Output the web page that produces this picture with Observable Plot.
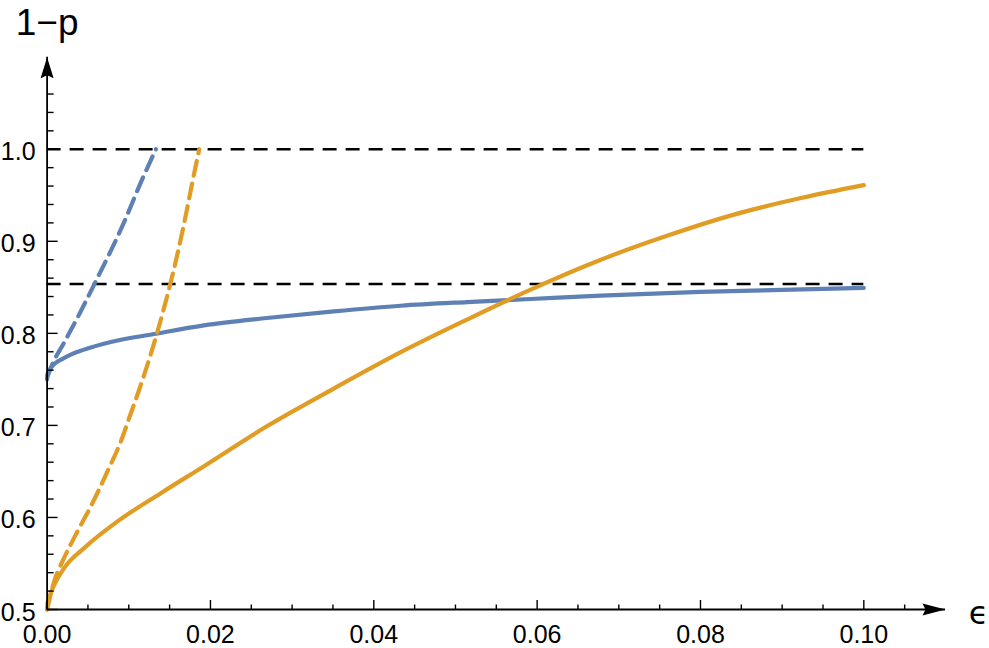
<!DOCTYPE html>
<html>
<head>
<meta charset="utf-8">
<script src="https://cdn.jsdelivr.net/npm/d3@7"></script>
<script src="https://cdn.jsdelivr.net/npm/@observablehq/plot@0.6"></script>
<style>
  html, body { margin: 0; padding: 0; background: #ffffff; }
  #chart { width: 989px; height: 648px; }
</style>
</head>
<body>
<div id="chart"></div>
<script>
// ---------- data ----------
const blueSolidEps = [0, 0.00005, 0.00045, 0.00208, 0.00453, 0.0078, 0.0131, 0.0192, 0.0269, 0.0351, 0.0433, 0.0514, 0.0592, 0.0678, 0.080, 0.090, 0.100];
const blueSolidP   = [0.750, 0.756, 0.7623, 0.7732, 0.7823, 0.7906, 0.7993, 0.8087, 0.8167, 0.8239, 0.8300, 0.8340, 0.8373, 0.8410, 0.8450, 0.8472, 0.8493];

const orangeSolidEps = [0, 0.00005, 0.00045, 0.00208, 0.00453, 0.00862, 0.01393, 0.01916, 0.0269, 0.0351, 0.0433, 0.0514, 0.0592, 0.0678, 0.0759, 0.0841, 0.0923, 0.100];
const orangeSolidP   = [0.500, 0.507, 0.5177, 0.5449, 0.5667, 0.5957, 0.6264, 0.6554, 0.699, 0.7400, 0.7795, 0.8149, 0.8475, 0.880, 0.906, 0.929, 0.947, 0.961];

const blueDashedEps = [0, 0.00065, 0.00208, 0.00372, 0.00474, 0.00576, 0.00944, 0.01148, 0.01332];
const blueDashedP   = [0.752, 0.7665, 0.790, 0.817, 0.8348, 0.853, 0.921, 0.964, 1.0];

const orangeDashedEps = [0, 0.00086, 0.00188, 0.00372, 0.00555, 0.00739, 0.00903, 0.01005, 0.01189, 0.01352, 0.01454, 0.01507, 0.01679, 0.01781, 0.01863];
const orangeDashedP   = [0.500, 0.5304, 0.5522, 0.5848, 0.6155, 0.650, 0.6826, 0.708, 0.7551, 0.802, 0.835, 0.853, 0.920, 0.9652, 1.0];

const refLevels = [1.0, 0.8536];
const refEpsEnd = 0.10;

const xMajorTicks = [0, 0.02, 0.04, 0.06, 0.08, 0.10];
const xTickLabels = ["0.00", "0.02", "0.04", "0.06", "0.08", "0.10"];
const xMinorTicks = [0.005, 0.01, 0.015, 0.025, 0.03, 0.035, 0.045, 0.05, 0.055, 0.065, 0.07, 0.075, 0.085, 0.09, 0.095, 0.105];

const yMajorTicks = [0.5, 0.6, 0.7, 0.8, 0.9, 1.0];
const yTickLabels = ["0.5", "0.6", "0.7", "0.8", "0.9", "1.0"];
const yMinorTicks = [0.52, 0.54, 0.56, 0.58, 0.62, 0.64, 0.66, 0.68, 0.72, 0.74, 0.76, 0.78, 0.82, 0.84, 0.86, 0.88, 0.92, 0.94, 0.96, 0.98, 1.02, 1.04, 1.06];

const xAxisMin = 0, xAxisMax = 0.11;
const yAxisMin = 0.5, yAxisMax = 1.1;
const xLabel = "ϵ";
const yLabel = "1−p";

// ---------- build ----------
const zip = (xs, ys) => xs.map((x, i) => ({eps: x, p: ys[i]}));
const blueSolid = zip(blueSolidEps, blueSolidP);
const orangeSolid = zip(orangeSolidEps, orangeSolidP);
const blueDashed = zip(blueDashedEps, blueDashedP);
const orangeDashed = zip(orangeDashedEps, orangeDashedP);

const BLUE = "#5E81B5";
const ORANGE = "#E19C24";
const FONT = "'Liberation Sans', Arial, Helvetica, sans-serif";
const LW = 4.2;

const tickSym = (dx, dy) => ({draw(ctx) { ctx.moveTo(0, 0); ctx.lineTo(dx, dy); }});
const arrowRight = {draw(ctx) { ctx.moveTo(0, 0); ctx.lineTo(-23, -6); ctx.lineTo(-20, 0); ctx.lineTo(-23, 6); ctx.closePath(); }};
const arrowUp = {draw(ctx) { ctx.moveTo(0, 0); ctx.lineTo(-6.5, 21); ctx.lineTo(0, 18); ctx.lineTo(6.5, 21); ctx.closePath(); }};

const chart = Plot.plot({
  width: 989,
  height: 648,
  marginLeft: 46.6,
  marginRight: 44,
  marginTop: 56.7,
  marginBottom: 39,
  x: {domain: [xAxisMin, xAxisMax], axis: null},
  y: {domain: [yAxisMin, yAxisMax], axis: null},
  style: {background: "#ffffff", fontFamily: FONT, overflow: "visible"},
  marks: [
    // reference dashed lines
    Plot.ruleY(refLevels, {y: d => d, x1: () => 0, x2: () => refEpsEnd, stroke: "black", strokeWidth: 2.6, strokeDasharray: "14,9"}),
    // curves
    Plot.line(blueSolid, {x: "eps", y: "p", stroke: BLUE, strokeWidth: LW, curve: "monotone-x"}),
    Plot.line(orangeSolid, {x: "eps", y: "p", stroke: ORANGE, strokeWidth: LW, curve: "monotone-x"}),
    Plot.line(blueDashed, {x: "eps", y: "p", stroke: BLUE, strokeWidth: LW, strokeDasharray: "15,8", curve: "monotone-x"}),
    Plot.line(orangeDashed, {x: "eps", y: "p", stroke: ORANGE, strokeWidth: LW, strokeDasharray: "15,8", curve: "monotone-x"}),
    // axis lines
    Plot.ruleY([yAxisMin], {y: d => d, x1: () => xAxisMin, x2: () => xAxisMax, stroke: "black", strokeWidth: 1.8}),
    Plot.ruleX([xAxisMin], {x: d => d, y1: () => yAxisMin, y2: () => yAxisMax, stroke: "black", strokeWidth: 1.8}),
    // ticks
    Plot.dot(xMajorTicks, {x: d => d, y: () => yAxisMin, r: 1, symbol: tickSym(0, -9.5), fill: "none", stroke: "black", strokeWidth: 1.4}),
    Plot.dot(xMinorTicks, {x: d => d, y: () => yAxisMin, r: 1, symbol: tickSym(0, -5), fill: "none", stroke: "black", strokeWidth: 1.4}),
    Plot.dot(yMajorTicks, {x: () => xAxisMin, y: d => d, r: 1, symbol: tickSym(10.5, 0), fill: "none", stroke: "black", strokeWidth: 1.4}),
    Plot.dot(yMinorTicks, {x: () => xAxisMin, y: d => d, r: 1, symbol: tickSym(6.5, 0), fill: "none", stroke: "black", strokeWidth: 1.4}),
    // arrowheads
    Plot.dot([xAxisMax], {x: d => d, y: () => yAxisMin, r: 1, symbol: arrowRight, fill: "black", stroke: "none"}),
    Plot.dot([yAxisMax], {x: () => xAxisMin, y: d => d, r: 1, symbol: arrowUp, fill: "black", stroke: "none"}),
    // tick labels
    Plot.text(xMajorTicks, {x: d => d, y: () => yAxisMin, text: (d, i) => xTickLabels[i], dy: 33, lineAnchor: "bottom", textAnchor: "middle", fontSize: 25, fill: "black", fontFamily: FONT}),
    Plot.text(yMajorTicks, {x: () => xAxisMin, y: d => d, text: (d, i) => yTickLabels[i], dx: -11.5, dy: 3, lineAnchor: "middle", textAnchor: "end", fontSize: 25, fill: "black", fontFamily: FONT}),
    // axis labels
    Plot.text([yLabel], {x: () => xAxisMin, y: () => yAxisMax, text: d => d, dy: -22, lineAnchor: "bottom", textAnchor: "middle", fontSize: 37, fill: "black", fontFamily: FONT}),
    Plot.text([xLabel], {x: () => xAxisMax, y: () => yAxisMin, text: d => d, dx: 33, dy: 14, lineAnchor: "bottom", textAnchor: "middle", fontSize: 32, fill: "black", fontFamily: "'DejaVu Sans', " + FONT})
  ]
});
document.getElementById("chart").appendChild(chart);
</script>
</body>
</html>
